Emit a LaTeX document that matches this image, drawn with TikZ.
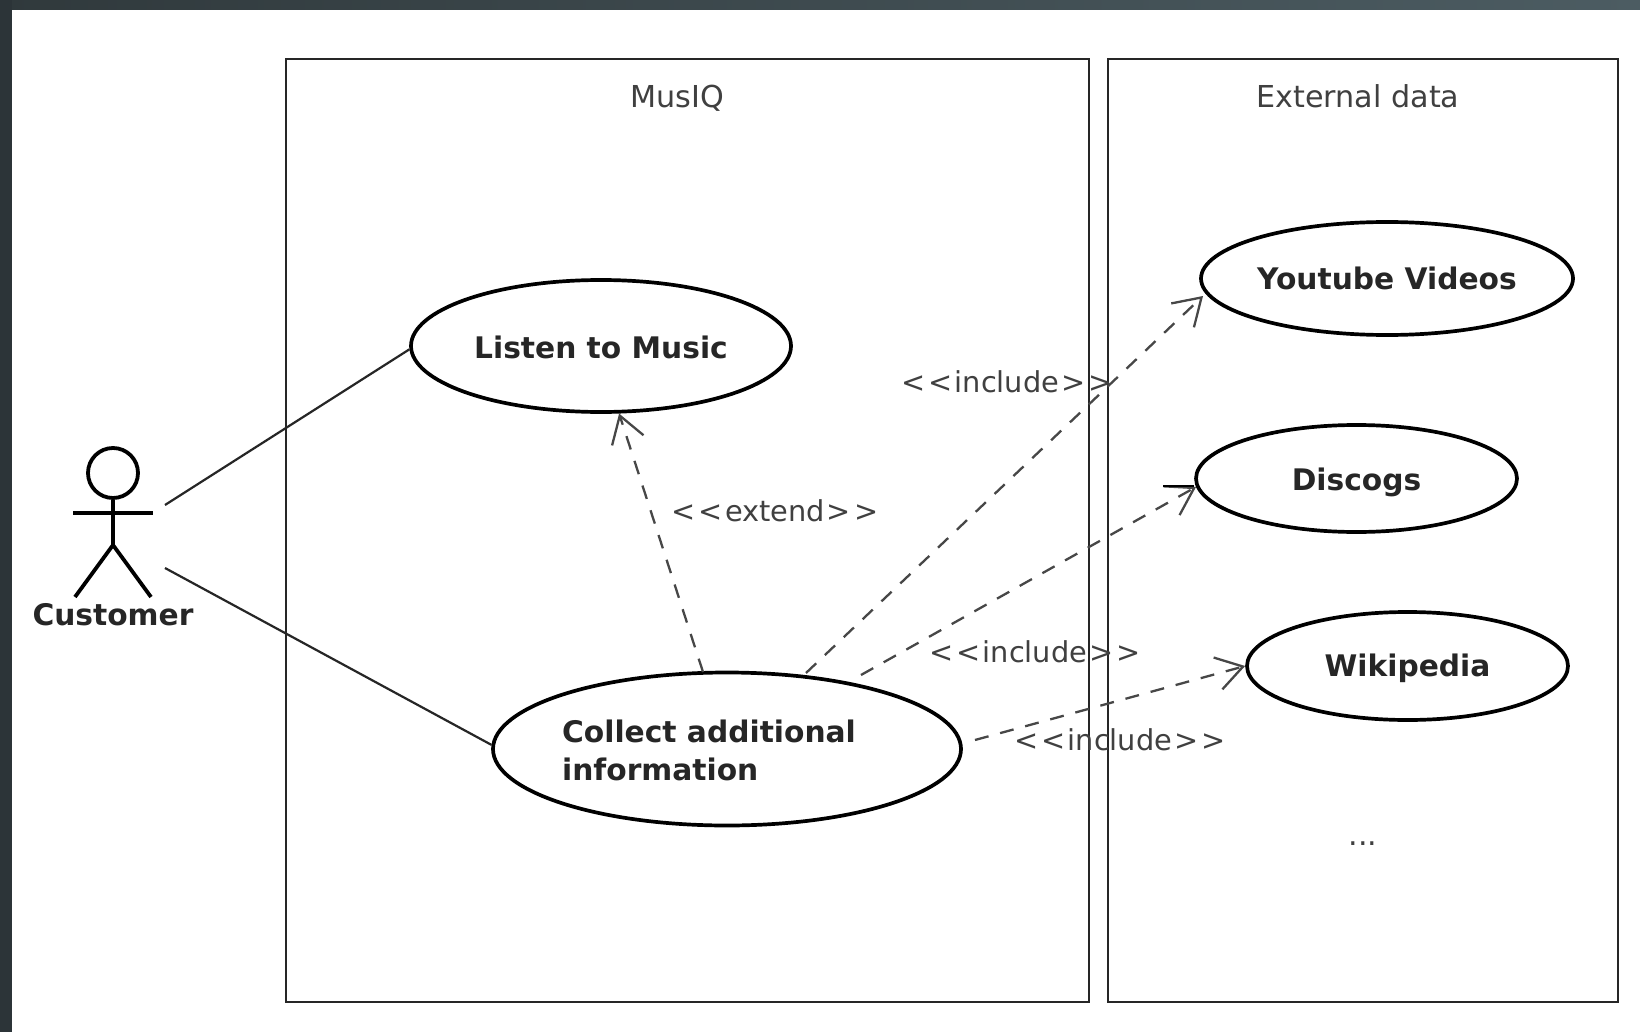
\documentclass[tikz,border=0pt]{standalone}
\usepackage{fontspec}
\setmainfont{DejaVu Sans}
\usetikzlibrary{shapes.geometric,arrows.meta}
\definecolor{stripl}{HTML}{2C3438}
\definecolor{stripa}{HTML}{30393C}
\definecolor{stripb}{HTML}{4C5C62}
\tikzset{
  usecase/.style={draw=black,line width=3.7pt,ellipse,fill=white,inner sep=0pt,font=\bfseries\fontsize{29.7}{38}\selectfont,text=black!85},
  sysbox/.style={draw=black!85,line width=2.2pt},
  title/.style={font=\fontsize{30.2}{36}\selectfont,text=black!75,inner sep=0pt},
  stereotype/.style={font=\fontsize{28.8}{36}\selectfont,text=black!75,inner sep=0pt},
  dep/.style={draw=black!72,line width=2.3pt,dash pattern=on 14pt off 12pt,-{Straight Barb[length=26pt,width=33pt,line width=2.3pt]}},
  assoc/.style={draw=black!85,line width=2.2pt},
  limb/.style={draw=black,line width=3.8pt},
}
\newcommand{\stereo}[1]{<\kern3pt<\kern2pt#1\kern2pt>\kern3pt>}
\newcommand{\uctext}[2]{\makebox[0pt]{\smash{\raisebox{#1}{#2}}}}
\begin{document}
\begin{tikzpicture}[x=1pt,y=-1pt]
\useasboundingbox (0,0) rectangle (1640,1032);
\fill[left color=stripa,right color=stripb] (0,0) rectangle (1640,10);
\fill[stripl] (0,0) rectangle (12,1032);
\fill[white] (12,10) rectangle (1640,1032);
\node[sysbox,minimum width=803pt,minimum height=943pt,inner sep=0pt] (musiq) at (687.5,530.5) {};
\node[sysbox,minimum width=510pt,minimum height=943pt,inner sep=0pt] (external) at (1363,530.5) {};
\node[title] (musiqt) at (677,98) {MusIQ};
\node[title] (externalt) at (1358,96) {External data};
\node[usecase,minimum width=380pt,minimum height=132pt] (listen) at (601,346) {\uctext{-12pt}{Listen to Music}};
\node[usecase,minimum width=468pt,minimum height=153pt] (collect) at (727,749) {};
\node[font=\bfseries\fontsize{29.7}{38}\selectfont,text=black!85,align=left,inner sep=0pt] (collectt) at (709,750) {Collect additional\\information};
\node[usecase,minimum width=372pt,minimum height=113pt] (youtube) at (1387,278.5) {\uctext{-11pt}{Youtube Videos}};
\node[usecase,minimum width=321pt,minimum height=107pt] (discogs) at (1356.5,478.5) {\uctext{-12pt}{Discogs}};
\node[usecase,minimum width=321pt,minimum height=108pt] (wikipedia) at (1407.5,666) {\uctext{-10pt}{Wikipedia}};
\node[title] (dots) at (1363,844) {...};
\node[draw=black,line width=3.8pt,circle,minimum size=50pt,inner sep=0pt] (head) at (113,473) {};
\coordinate (arml) at (73,513);
\coordinate (armr) at (153,513);
\coordinate (hip) at (113,545);
\coordinate (footl) at (75,597);
\coordinate (footr) at (151,597);
\draw[limb] (head.south) -- (hip);
\draw[limb] (arml) -- (armr);
\draw[limb] (footl) -- (hip) -- (footr);
\node[font=\bfseries\fontsize{29.7}{38}\selectfont,text=black!85,inner sep=0pt] (customer) at (113,615) {Customer};
\coordinate (a1) at (165,505);
\coordinate (a2) at (165,568);
\draw[assoc] (a1) -- (listen.181.5);
\draw[assoc] (a2) -- (collect.179.4);
\coordinate (c1) at (703,672);
\coordinate (c2) at (806,673);
\coordinate (c3) at (861,675);
\coordinate (c4) at (975,740);
\coordinate (stub) at (1163,486);
\coordinate (ytip) at (1203,296);
\draw[dep] (c1) -- (listen.-75.6);
\draw[dep] (c2) -- (ytip);
\draw[dep] (c3) -- (discogs.183);
\draw[dep] (c4) -- (wikipedia.west);
\draw[limb,line width=2.2pt] (stub) -- (stub -| discogs.west);
\node[stereotype] (lext) at (775,511) {\stereo{extend}};
\node[stereotype] (linc1) at (1007,382) {\stereo{include}};
\node[stereotype] (linc2) at (1035,652) {\stereo{include}};
\node[stereotype] (linc3) at (1120,740) {\stereo{include}};
\end{tikzpicture}
\end{document}
